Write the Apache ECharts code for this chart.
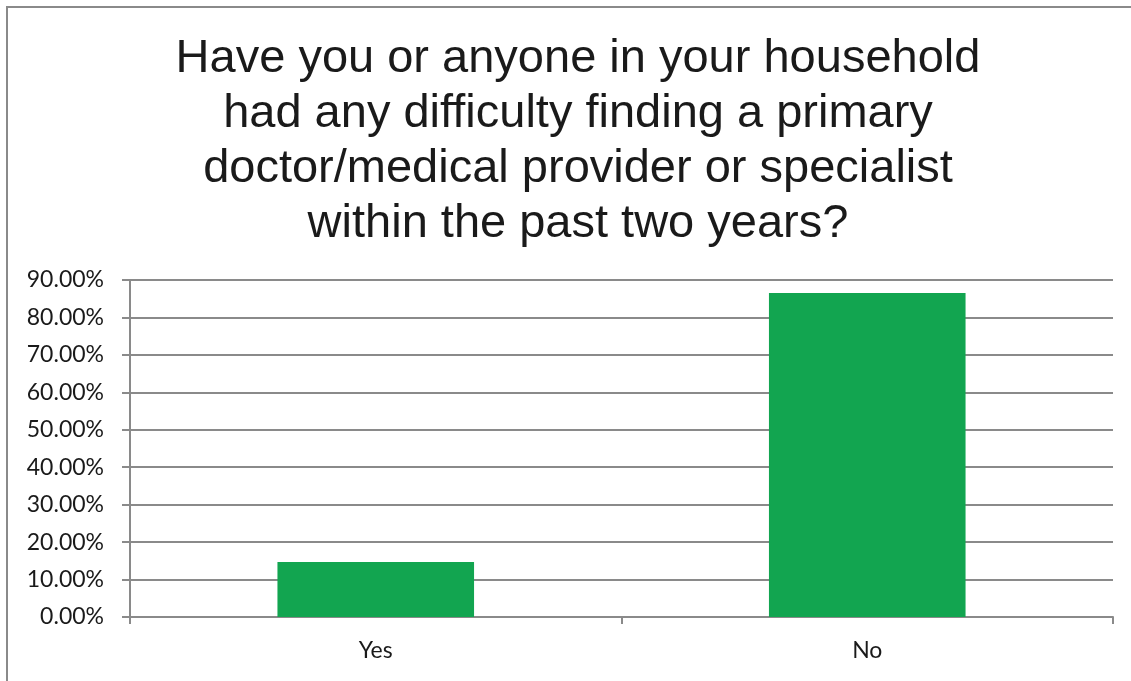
<!DOCTYPE html>
<html><head><meta charset="utf-8">
<script src="https://cdn.jsdelivr.net/npm/echarts@6/dist/echarts.min.js"></script>
<style>html,body{margin:0;padding:0;background:#fff}#c{width:1131px;height:681px}</style>
</head><body><div id="c"></div>
<script>
const categories = ['Yes', 'No'];
const values = [14.7, 86.5];
const titleText = 'Have you or anyone in your household\nhad any difficulty finding a primary\ndoctor/medical provider or specialist\nwithin the past two years?';

const chart = echarts.init(document.getElementById('c'));
chart.setOption({
  animation: false,
  graphic: [{
    type: 'rect', shape: {x: 7, y: 7, width: 1140, height: 690},
    style: {fill: 'none', stroke: '#8a8a8a', lineWidth: 2}, silent: true
  }],
  title: {
    text: titleText, left: 573, top: 27, textAlign: 'center',
    textStyle: {fontFamily: 'Liberation Sans, Arial', fontSize: 47, fontWeight: 'normal', color: '#1a1a1a', lineHeight: 55}
  },
  grid: {left: 130, right: 18, top: 280, bottom: 64, containLabel: false},
  xAxis: {
    type: 'category', data: categories,
    axisLine: {lineStyle: {color: '#8a8a8a', width: 2}},
    axisTick: {show: true, length: 7, lineStyle: {color: '#8a8a8a', width: 2}},
    axisLabel: {fontFamily: 'Lato, Open Sans, sans-serif', fontSize: 23, color: '#1a1a1a', margin: 22}
  },
  yAxis: {
    type: 'value', min: 0, max: 90, interval: 10,
    axisLine: {show: true, lineStyle: {color: '#8a8a8a', width: 2}},
    axisTick: {show: true, length: 8, lineStyle: {color: '#8a8a8a', width: 2}},
    splitLine: {lineStyle: {color: '#8a8a8a', width: 2}},
    axisLabel: {formatter: v => v.toFixed(2) + '%', fontFamily: 'Lato, Open Sans, sans-serif', fontSize: 23, color: '#1a1a1a', margin: 26}
  },
  series: [{
    type: 'bar', data: values, barWidth: '40%',
    itemStyle: {color: '#12a550'}
  }]
});
</script></body></html>
